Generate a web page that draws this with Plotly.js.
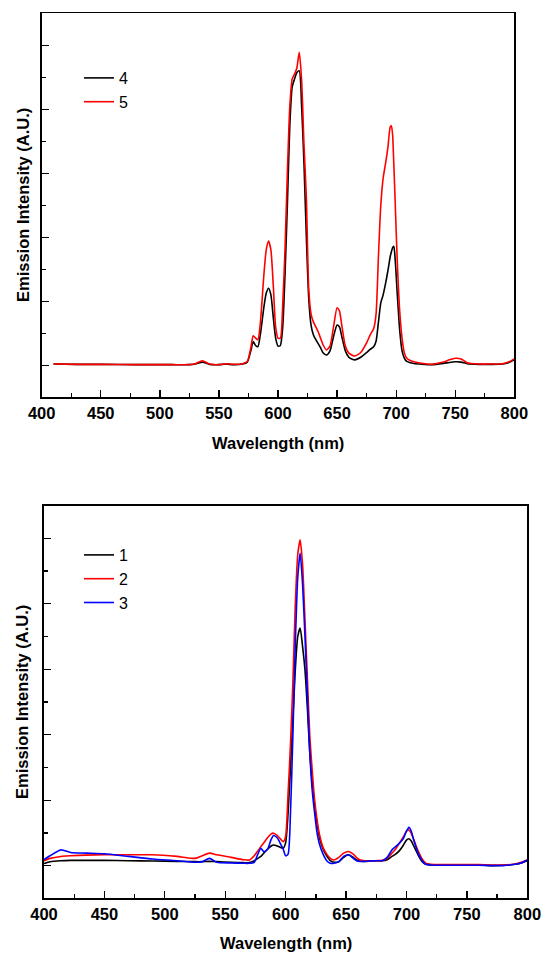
<!DOCTYPE html>
<html>
<head>
<meta charset="utf-8">
<script src="https://cdn.plot.ly/plotly-3.0.1.min.js"></script>
<style>html,body{margin:0;padding:0;background:#fff;}#chart{width:550px;height:965px;}</style>
</head>
<body>
<div id="chart"></div>
<script>
// ---- Top panel (samples 4 and 5) ----
const wlTop = [410,430,450,480,510,525,530,536,542,550,556,562,570,574,577,579,581,583,585,588,590,592,594,596,598,600,602,604,606,608,610,612,614,616,618,620,622,624,626,628,630,632,634,636,638,641,644,647,650,652,654,657,660,665,670,675,678,681,683,685,687,689,691,693,695,696,697,698,699,701,703,705,707,709,712,716,720,730,740,745,750,755,760,770,780,790,795,800];
const s4 = [0.04,0.03,0.03,0.02,0.02,0.02,0.04,0.10,0.03,0.02,0.04,0.02,0.04,0.10,0.45,0.74,0.62,0.58,0.95,1.80,2.25,2.41,2.20,1.50,0.85,0.60,0.62,1.20,2.90,5.10,7.50,8.70,8.95,9.15,9.20,8.10,6.30,4.00,2.10,1.25,0.95,0.80,0.68,0.55,0.40,0.32,0.45,0.90,1.26,1.20,0.90,0.45,0.25,0.17,0.25,0.40,0.50,0.58,0.75,1.35,1.95,2.20,2.55,2.95,3.40,3.55,3.68,3.72,3.40,2.20,1.10,0.45,0.22,0.12,0.08,0.05,0.04,0.02,0.06,0.09,0.11,0.10,0.05,0.03,0.03,0.04,0.08,0.17];
const s5 = [0.04,0.03,0.03,0.02,0.02,0.02,0.05,0.14,0.04,0.02,0.05,0.03,0.05,0.12,0.55,0.92,0.85,0.80,1.30,2.80,3.60,3.88,3.60,2.50,1.20,0.85,0.85,1.90,3.70,6.10,8.10,8.95,9.10,9.30,9.78,8.90,6.90,5.25,2.40,1.60,1.35,1.20,1.05,0.85,0.65,0.48,0.60,1.20,1.80,1.70,1.25,0.60,0.38,0.29,0.40,0.70,0.95,1.15,1.60,3.40,5.00,5.85,6.30,6.80,7.45,7.48,7.20,6.30,5.30,3.20,1.70,0.85,0.38,0.22,0.15,0.10,0.07,0.03,0.10,0.17,0.22,0.20,0.08,0.04,0.04,0.05,0.10,0.20];

// ---- Bottom panel (samples 1, 2 and 3) ----
const wlBot = [400,405,414,422,435,450,470,490,510,525,531,537,543,555,565,570,574,577,579.5,582,585,588,590,593,596,598,600,602,604,606,608,610,612,614,616,618,620,622,624,626,628,631,634,637,640,644,648,652,656,660,665,670,675,680,684,688,691,694,697,700,702,704,706,708,710,713,716,720,730,740,750,760,770,780,790,795,800];
const s1 = [0.06,0.12,0.15,0.16,0.16,0.16,0.15,0.14,0.13,0.12,0.12,0.13,0.12,0.10,0.09,0.09,0.15,0.22,0.28,0.38,0.50,0.60,0.63,0.60,0.55,0.53,0.70,1.60,3.00,4.50,6.00,7.00,7.26,6.70,5.98,4.80,3.44,2.50,1.80,1.30,0.85,0.50,0.30,0.15,0.10,0.12,0.25,0.33,0.25,0.15,0.13,0.14,0.15,0.15,0.18,0.28,0.35,0.45,0.60,0.78,0.82,0.75,0.60,0.45,0.30,0.12,0.04,0.02,0.01,0.01,0.02,0.02,0.00,0.01,0.04,0.08,0.15];
const s2 = [0.15,0.22,0.28,0.30,0.32,0.33,0.33,0.33,0.28,0.22,0.30,0.38,0.33,0.25,0.18,0.17,0.30,0.45,0.58,0.70,0.85,0.97,0.99,0.92,0.80,0.73,0.90,2.20,3.70,5.60,8.00,9.50,9.96,9.20,7.51,5.70,3.95,2.90,2.00,1.40,0.95,0.55,0.35,0.22,0.17,0.25,0.38,0.43,0.35,0.20,0.15,0.15,0.15,0.16,0.22,0.38,0.50,0.68,0.85,1.05,1.09,0.98,0.80,0.60,0.42,0.20,0.07,0.04,0.03,0.03,0.03,0.03,0.02,0.02,0.05,0.10,0.17];
const s3 = [0.18,0.30,0.48,0.40,0.38,0.36,0.28,0.20,0.15,0.10,0.12,0.22,0.10,0.08,0.07,0.07,0.10,0.35,0.53,0.42,0.50,0.80,0.92,0.85,0.65,0.50,0.30,0.35,1.60,4.00,6.80,8.80,9.55,8.60,7.00,5.20,3.44,2.30,1.60,1.00,0.65,0.35,0.15,0.07,0.07,0.12,0.28,0.33,0.22,0.13,0.13,0.14,0.15,0.15,0.25,0.48,0.58,0.68,0.80,1.05,1.17,1.05,0.78,0.55,0.35,0.15,0.04,0.02,0.01,0.01,0.01,0.01,0.00,0.00,0.04,0.08,0.17];

const xTickVals = [400,450,500,550,600,650,700,750,800];

const W = 550, H = 965;
const FONT = '"Liberation Sans", Arial, sans-serif';
const lw = 1.6;
function ln(c){ return {color:c, width:lw, shape:'spline', smoothing:0.6}; }

const traces = [
  {x: wlTop, y: s4, name:'4', type:'scatter', mode:'lines', line: ln('#000000'), xaxis:'x', yaxis:'y', legend:'legend'},
  {x: wlTop, y: s5, name:'5', type:'scatter', mode:'lines', line: ln('#ff0000'), xaxis:'x', yaxis:'y', legend:'legend'},
  {x: wlBot, y: s1, name:'1', type:'scatter', mode:'lines', line: ln('#000000'), xaxis:'x2', yaxis:'y2', legend:'legend2'},
  {x: wlBot, y: s2, name:'2', type:'scatter', mode:'lines', line: ln('#ff0000'), xaxis:'x2', yaxis:'y2', legend:'legend2'},
  {x: wlBot, y: s3, name:'3', type:'scatter', mode:'lines', line: ln('#0000ff'), xaxis:'x2', yaxis:'y2', legend:'legend2'}
];

function xAx(dom, anchor){
  return {domain: dom, anchor: anchor, range:[400,800], tickvals: xTickVals, ticktext: xTickVals.map(String),
    ticks:'inside', ticklen:7, tickwidth:1.3, tickcolor:'#000',
    minor:{ticks:'inside', ticklen:4, tickwidth:1.3, tickcolor:'#000', dtick:25, tick0:400, showgrid:false},
    showline:true, linecolor:'#000', linewidth:1.6, mirror:true, showgrid:false, zeroline:false,
    tickfont:{family:FONT, size:16.5, color:'#000', weight:'bold'}, fixedrange:true};
}
function yAx(dom, anchor){
  return {domain: dom, anchor: anchor, range:[-1,11], tick0:0, dtick:2,
    ticks:'inside', ticklen:7, tickwidth:1.3, tickcolor:'#000',
    minor:{ticks:'inside', ticklen:4, tickwidth:1.3, tickcolor:'#000', dtick:1, tick0:0, showgrid:false},
    showticklabels:false, showline:true, linecolor:'#000', linewidth:1.6, mirror:true, showgrid:false, zeroline:false, fixedrange:true};
}

const titleFont = {family:FONT, size:16.5, color:'#000', weight:'bold'};
const legFont = {family:FONT, size:16, color:'#000'};
const layout = {
  width: W, height: H,
  margin:{l:0, r:0, t:0, b:0},
  paper_bgcolor:'#fff', plot_bgcolor:'#fff',
  font:{family:FONT, color:'#000'},
  xaxis: xAx([41.7/W, 514.3/W], 'y'),
  yaxis: yAx([(H-397.3)/H, (H-13.3)/H], 'x'),
  xaxis2: xAx([44/W, 527.3/W], 'y2'),
  yaxis2: yAx([(H-898.3)/H, (H-505.7)/H], 'x2'),
  legend:{x:79/W, y:(H-61)/H, xanchor:'left', yanchor:'top', bgcolor:'rgba(0,0,0,0)', borderwidth:0,
    font:legFont, tracegroupgap:0, itemclick:false, itemdoubleclick:false},
  legend2:{x:79/W, y:(H-538)/H, xanchor:'left', yanchor:'top', bgcolor:'rgba(0,0,0,0)', borderwidth:0,
    font:legFont, tracegroupgap:0, itemclick:false, itemdoubleclick:false},
  showlegend:true,
  annotations:[
    {text:'Wavelength (nm)', xref:'paper', yref:'paper', x:278/W, y:(H-443)/H, xanchor:'center', yanchor:'middle', showarrow:false, font:titleFont},
    {text:'Emission Intensity (A.U.)', xref:'paper', yref:'paper', x:23/W, y:(H-205)/H, xanchor:'center', yanchor:'middle', textangle:-90, showarrow:false, font:titleFont},
    {text:'Wavelength (nm)', xref:'paper', yref:'paper', x:285.6/W, y:(H-943)/H, xanchor:'center', yanchor:'middle', showarrow:false, font:titleFont},
    {text:'Emission Intensity (A.U.)', xref:'paper', yref:'paper', x:22/W, y:(H-702)/H, xanchor:'center', yanchor:'middle', textangle:-90, showarrow:false, font:titleFont}
  ]
};

Plotly.newPlot('chart', traces, layout, {staticPlot:true, displayModeBar:false});
</script>
</body>
</html>
